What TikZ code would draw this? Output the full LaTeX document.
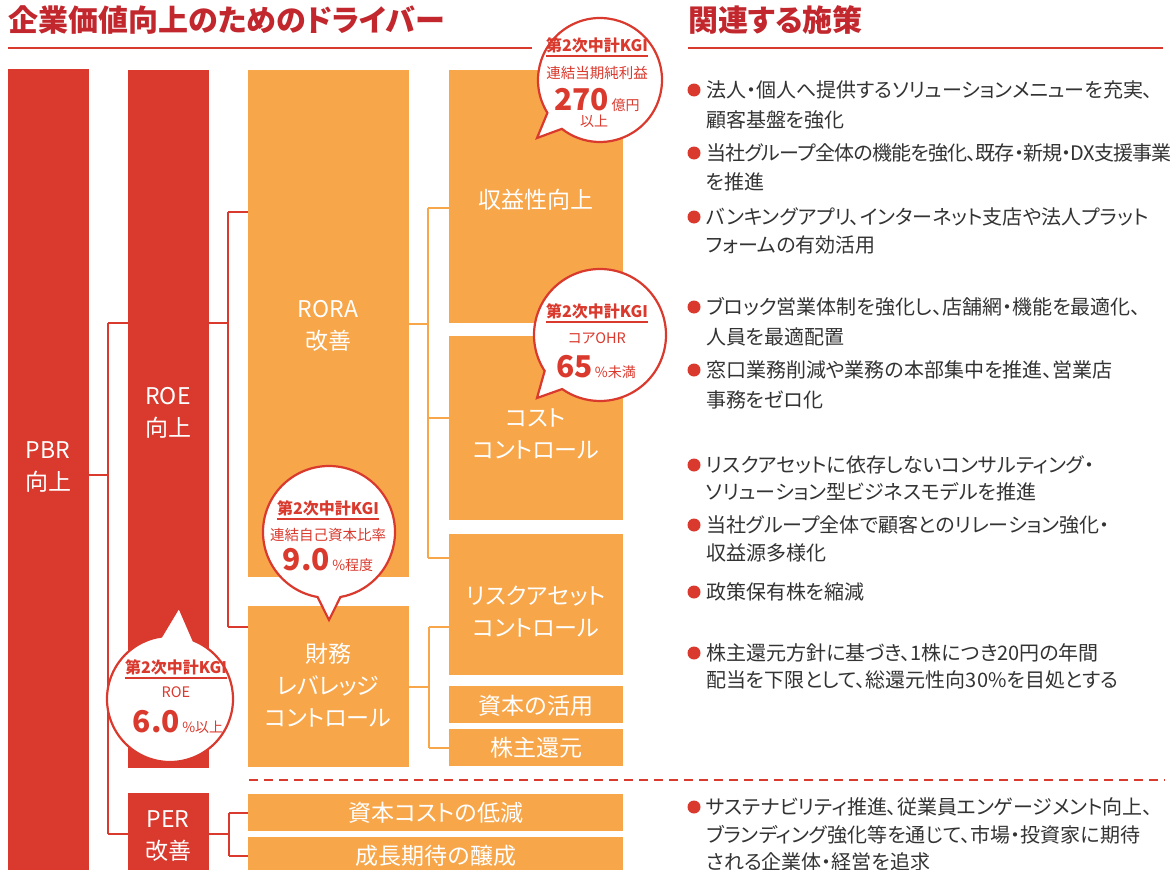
\documentclass[tikz,border=0pt]{standalone}
\usepackage{fontspec}
\setmainfont{Noto Sans CJK JP}
\newfontfamily\jp[RawFeature=+palt]{Noto Sans CJK JP}
\usetikzlibrary{calc}
\definecolor{cred}{HTML}{DA392D}
\definecolor{corange}{HTML}{F7A649}
\definecolor{ctitle}{HTML}{C1272D}
\definecolor{ctext}{HTML}{333333}
\newcommand\bl[3]{\node[btxt] (#1) at (706,#2) {#3};}
\newcommand\bd[2]{\node[bdot] (#1) at (694,#2) {};}
\begin{document}
\begin{tikzpicture}[x=1pt,y=-1pt,
  rbar/.style={fill=cred,inner sep=0,outer sep=0,anchor=north west},
  obox/.style={fill=corange,inner sep=0,outer sep=0,anchor=north west},
  wlab/.style={text=white,align=center,inner sep=0,font=\jp\fontsize{23}{32}\selectfont},
  rconn/.style={draw=cred,line width=2pt},
  oconn/.style={draw=corange,line width=2pt},
  callout/.style={fill=white,draw=cred,line width=2.2pt},
  kgi/.style={text=cred,inner sep=0,font=\jp\bfseries\fontsize{16}{16}\selectfont},
  ksub/.style={text=cred,inner sep=0,font=\jp\fontsize{14.5}{14.5}\selectfont},
  kval/.style={text=cred,inner sep=0,font=\jp\fontsize{14}{14}\selectfont},
  bdot/.style={circle,fill=cred,minimum size=13pt,inner sep=0},
  btxt/.style={text=ctext,anchor=west,inner sep=0,font=\jp\fontsize{20}{20}\selectfont},
  ttl/.style={text=ctitle,anchor=west,inner sep=0,font=\jp\bfseries\fontsize{30}{30}\selectfont},
]
\useasboundingbox (0,0) rectangle (1170,870);

% titles
\node[ttl] (title) at (8,20) {企業価値向上のためのドライバー};
\node[ttl] (title2) at (688,20) {関連する施策};
\coordinate (u1a) at (8,48); \coordinate (u1b) at (532,48);
\coordinate (u2a) at (688,48); \coordinate (u2b) at (1163,48);
\draw[cred,line width=2pt] (u1a) -- (u1b);
\draw[cred,line width=2pt] (u2a) -- (u2b);

% boxes
\node[rbar,minimum width=81pt,minimum height=811pt] (pbr) at (8,69) {};
\node[rbar,minimum width=81pt,minimum height=698pt] (roe) at (128,70) {};
\node[rbar,minimum width=81pt,minimum height=87pt] (per) at (128,793) {};
\node[obox,minimum width=161pt,minimum height=507pt] (rora) at (248,70) {};
\node[obox,minimum width=161pt,minimum height=161pt] (fin) at (248,606) {};
\node[obox,minimum width=174pt,minimum height=253pt] (prof) at (449,70) {};
\node[obox,minimum width=174pt,minimum height=184pt] (cost) at (449,336) {};
\node[obox,minimum width=174pt,minimum height=141pt] (risk) at (449,534) {};
\node[obox,minimum width=174pt,minimum height=37pt] (capu) at (449,686) {};
\node[obox,minimum width=174pt,minimum height=37pt] (shr) at (449,729) {};
\node[obox,minimum width=375pt,minimum height=37pt] (capcost) at (248,794) {};
\node[obox,minimum width=375pt,minimum height=43pt] (growth) at (248,837) {};

% labels
\node[wlab] (pbrt) at (48,467) {PBR\\向上};
\node[wlab] (roet) at (168,413) {ROE\\向上};
\node[wlab] (pert) at (168,836) {PER\\改善};
\node[wlab] (rorat) at (328,326) {RORA\\改善};
\node[wlab] (fint) at (328,685) {財務\\レバレッジ\\コントロール};
\node[wlab] (proft) at (536,200) {収益性向上};
\node[wlab] (costt) at (536,434) {コスト\\コントロール};
\node[wlab] (riskt) at (536,612) {リスクアセット\\コントロール};
\node[wlab] (capt) at (536,706) {資本の活用};
\node[wlab] (shrt) at (536,748) {株主還元};
\node[wlab] (capcostt) at (436,813) {資本コストの低減};
\node[wlab] (growtht) at (436,856) {成長期待の醸成};

% red connectors
\coordinate (jA) at (108,323); \coordinate (jB) at (108,834);
\draw[rconn] (pbr.east) -- (pbr.east -| jA);
\draw[rconn] (jA) -- (jB);
\draw[rconn] (jA) -- (jA -| roe.west);
\draw[rconn] (jB) -- (jB -| per.west);
\coordinate (jE) at (228,323); \coordinate (jC) at (228,212); \coordinate (jD) at (228,627);
\draw[rconn] (jE -| roe.east) -- (jE);
\draw[rconn] (jC) -- (jD);
\draw[rconn] (jC) -- (jC -| rora.west);
\draw[rconn] (jD) -- (jD -| fin.west);
\coordinate (jF) at (229,813); \coordinate (jG) at (229,856);
\draw[rconn] (per.east |- 0,834) -- (jF |- 0,834);
\draw[rconn] (jF) -- (jG);
\draw[rconn] (jF) -- (jF -| capcost.west);
\draw[rconn] (jG) -- (jG -| growth.west);

% orange connectors
\coordinate (jH) at (428,208); \coordinate (jI) at (428,558); \coordinate (jJ) at (428,418);
\draw[oconn] (rora.east) -- (rora.east -| jH);
\draw[oconn] (jH) -- (jI);
\draw[oconn] (jH) -- (jH -| prof.west);
\draw[oconn] (jJ) -- (jJ -| cost.west);
\draw[oconn] (jI) -- (jI -| risk.west);
\coordinate (jK) at (429,627); \coordinate (jL) at (429,748);
\draw[oconn] (fin.east) -- (fin.east -| jK);
\draw[oconn] (jK) -- (jL);
\draw[oconn] (jK) -- (jK -| risk.west);
\draw[oconn] (jL) -- (jL -| shr.west);

% dashed separator
\coordinate (dl) at (249,780); \coordinate (dr) at (1165,780);
\draw[cred,line width=2pt,dash pattern=on 9pt off 6pt] (dl) -- (dr);

% callout 1
\coordinate (c1) at (600,80); \coordinate (t1) at (537,138);
\draw[callout] ($(c1)+(128:62)$) -- (t1) -- ($(c1)+(148:62)$) arc[start angle=148,end angle=488,radius=62] -- cycle;
\node[kgi] (k1) at (597,45) {第2次中計KGI};
\draw[cred,line width=1.5pt] ([yshift=-3pt]k1.south west) -- ([yshift=-3pt]k1.south east);
\node[ksub] (s1) at (597,73) {連結当期純利益};
\node[kval] (v1) at (597,100) {{\bfseries\fontsize{30}{30}\selectfont 270}\,億円};
\node[kval] (v1b) at (594,121) {以上};

% callout 2
\coordinate (c2) at (600,335); \coordinate (t2) at (537,398);
\draw[callout] ($(c2)+(125:66)$) -- (t2) -- ($(c2)+(147:66)$) arc[start angle=147,end angle=485,radius=66] -- cycle;
\node[kgi] (k2) at (597,311) {第2次中計KGI};
\draw[cred,line width=1.5pt] ([yshift=-3pt]k2.south west) -- ([yshift=-3pt]k2.south east);
\node[ksub] (s2) at (597,338) {コアOHR};
\node[kval] (v2) at (596,367) {{\bfseries\fontsize{30}{30}\selectfont 65}\,\%未満};

% callout 3
\coordinate (c3) at (329,532); \coordinate (t3) at (329,620);
\draw[callout] ($(c3)+(80:66)$) -- (t3) -- ($(c3)+(100:66)$) arc[start angle=100,end angle=440,radius=66] -- cycle;
\node[kgi] (k3) at (328,508) {第2次中計KGI};
\draw[cred,line width=1.5pt] ([yshift=-3pt]k3.south west) -- ([yshift=-3pt]k3.south east);
\node[ksub] (s3) at (328,535) {連結自己資本比率};
\node[kval] (v3) at (328,560) {{\bfseries\fontsize{30}{30}\selectfont 9.0}\,\%程度};

% callout 4
\coordinate (c4) at (170,699); \coordinate (t4) at (179,607);
\draw[callout] ($(c4)+(262:63)$) -- (t4) -- ($(c4)+(292:63)$) arc[start angle=292,end angle=622,radius=63] -- cycle;
\node[kgi] (k4) at (176,667) {第2次中計KGI};
\draw[cred,line width=1.5pt] ([yshift=-3pt]k4.south west) -- ([yshift=-3pt]k4.south east);
\node[ksub] (s4) at (176,692) {ROE};
\node[kval] (v4) at (178,722) {{\bfseries\fontsize{30}{30}\selectfont 6.0}\,\%以上};

% bullets
\bd{d1}{90}  \bl{b1a}{90}{法人・個人へ提供するソリューションメニューを充実、}
\bl{b1b}{120}{顧客基盤を強化}
\bd{d2}{153} \bl{b2a}{153}{\addfontfeatures{LetterSpace=-4}当社グループ全体の機能を強化、既存・新規・DX支援事業}
\bl{b2b}{182}{を推進}
\bd{d3}{217} \bl{b3a}{217}{バンキングアプリ、インターネット支店や法人プラット}
\bl{b3b}{245}{フォームの有効活用}
\bd{d4}{307} \bl{b4a}{307}{ブロック営業体制を強化し、店舗網・機能を最適化、}
\bl{b4b}{337}{人員を最適配置}
\bd{d5}{370} \bl{b5a}{370}{窓口業務削減や業務の本部集中を推進、営業店}
\bl{b5b}{400}{事務をゼロ化}
\bd{d6}{465} \bl{b6a}{465}{リスクアセットに依存しないコンサルティング・}
\bl{b6b}{492}{ソリューション型ビジネスモデルを推進}
\bd{d7}{525} \bl{b7a}{525}{当社グループ全体で顧客とのリレーション強化・}
\bl{b7b}{553}{収益源多様化}
\bd{d8}{592} \bl{b8a}{592}{政策保有株を縮減}
\bd{d9}{653} \bl{b9a}{653}{株主還元方針に基づき、1株につき20円の年間}
\bl{b9b}{680}{配当を下限として、総還元性向30\%を目処とする}
\bd{d10}{807} \bl{b10a}{807}{サステナビリティ推進、従業員エンゲージメント向上、}
\bl{b10b}{835}{ブランディング強化等を通じて、市場・投資家に期待}
\bl{b10c}{862}{される企業体・経営を追求}
\end{tikzpicture}
\end{document}
